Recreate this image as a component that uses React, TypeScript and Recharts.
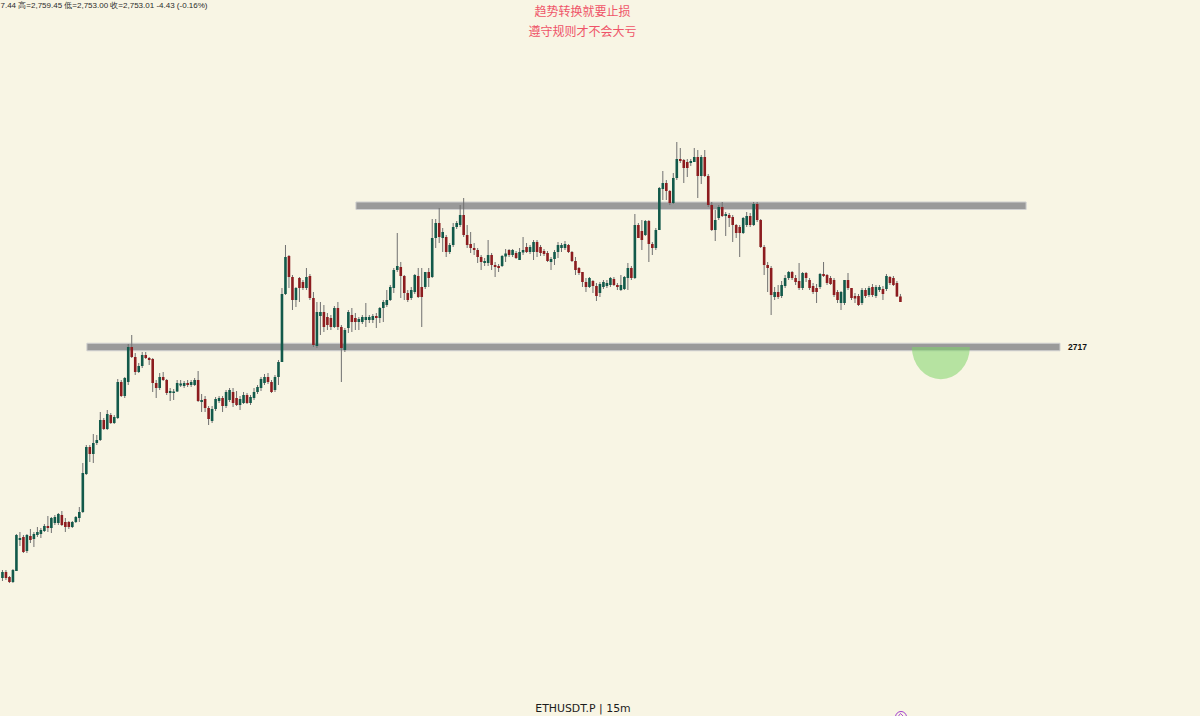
import React from 'react';
import { ComposedChart, Bar, XAxis, YAxis, ReferenceArea } from 'recharts';

// ETHUSDT perpetual, 15 minute candles (oldest first)
const OPEN = [
  2532.2, 2537.0, 2533.0, 2529.0, 2537.8, 2562.6, 2565.0, 2553.8, 2565.8, 2563.4,
  2566.6, 2567.4, 2569.8, 2573.8, 2572.2, 2576.2, 2576.2, 2582.6, 2577.0, 2577.0,
  2573.0, 2577.0, 2580.2, 2585.0, 2615.4, 2637.0, 2631.4, 2640.2, 2642.6, 2658.6,
  2651.4, 2662.6, 2656.2, 2660.2, 2689.0, 2677.8, 2689.0, 2717.0, 2709.0, 2697.0,
  2701.8, 2710.6, 2708.2, 2707.4, 2688.2, 2684.2, 2693.0, 2690.6, 2680.2, 2680.2,
  2681.4, 2686.2, 2685.8, 2688.2, 2686.6, 2686.6, 2690.6, 2673.0, 2675.4, 2668.2,
  2657.8, 2667.4, 2673.8, 2676.2, 2669.8, 2674.6, 2681.0, 2676.2, 2670.6, 2672.2,
  2678.6, 2672.2, 2676.2, 2681.0, 2684.2, 2688.2, 2693.0, 2689.0, 2682.6, 2693.0,
  2705.0, 2759.4, 2789.8, 2773.0, 2754.6, 2772.2, 2769.0, 2764.2, 2773.8, 2756.2,
  2717.8, 2741.8, 2745.0, 2741.0, 2740.2, 2733.0, 2748.2, 2733.0, 2714.6, 2732.2,
  2742.6, 2740.2, 2737.0, 2737.0, 2738.6, 2738.6, 2738.6, 2741.8, 2740.2, 2748.2,
  2750.6, 2754.6, 2764.2, 2778.6, 2781.0, 2773.8, 2760.2, 2756.2, 2761.0, 2773.8,
  2765.0, 2765.0, 2777.0, 2773.0, 2804.2, 2816.2, 2804.2, 2805.0, 2793.0, 2798.6,
  2813.0, 2814.6, 2822.6, 2806.6, 2799.4, 2796.2, 2794.6, 2789.0, 2784.2, 2784.2,
  2790.6, 2782.6, 2781.8, 2781.8, 2789.4, 2794.6, 2790.6, 2792.2, 2786.6, 2792.6,
  2797.0, 2793.0, 2793.0, 2801.0, 2797.0, 2793.8, 2792.2, 2785.0, 2787.4, 2793.0,
  2796.2, 2796.2, 2798.6, 2793.0, 2785.8, 2780.2, 2777.0, 2769.0, 2765.0, 2769.8,
  2765.8, 2760.2, 2765.0, 2765.8, 2766.6, 2771.4, 2766.6, 2762.6, 2763.4, 2772.2,
  2780.2, 2772.2, 2814.6, 2809.8, 2806.6, 2817.8, 2799.4, 2796.2, 2810.6, 2843.4,
  2848.2, 2841.8, 2832.2, 2852.2, 2867.4, 2866.6, 2865.0, 2864.2, 2865.0, 2869.0,
  2853.8, 2869.0, 2853.8, 2830.6, 2810.6, 2820.2, 2829.0, 2821.8, 2822.6, 2821.0,
  2814.6, 2813.0, 2808.2, 2814.6, 2821.8, 2814.6, 2831.4, 2818.6, 2797.0, 2782.6,
  2780.2, 2757.0, 2761.0, 2757.8, 2765.8, 2772.2, 2777.0, 2772.2, 2769.8, 2764.2,
  2776.2, 2770.6, 2765.8, 2764.2, 2765.0, 2775.4, 2774.6, 2772.2, 2770.6, 2761.0,
  2752.2, 2752.2, 2770.6, 2764.2, 2757.8, 2757.8, 2752.2, 2762.6, 2758.6, 2765.0,
  2757.8, 2762.6, 2763.4, 2763.4, 2773.0, 2772.2, 2768.2, 2757.44,
];

const HIGH = [
  2538.6, 2538.6, 2533.8, 2539.4, 2567.4, 2569.0, 2566.6, 2567.4, 2571.4, 2569.0,
  2573.0, 2572.2, 2575.4, 2581.8, 2581.0, 2582.6, 2584.2, 2585.8, 2580.2, 2577.8,
  2577.8, 2581.8, 2589.0, 2624.2, 2638.6, 2638.6, 2647.4, 2646.6, 2665.0, 2660.2,
  2666.6, 2664.2, 2662.6, 2691.4, 2690.6, 2693.0, 2719.4, 2726.6, 2712.2, 2704.2,
  2713.0, 2713.0, 2709.0, 2708.2, 2690.6, 2696.2, 2697.0, 2691.4, 2684.2, 2683.4,
  2690.6, 2690.6, 2689.8, 2690.6, 2690.6, 2692.2, 2697.8, 2679.4, 2677.8, 2669.8,
  2669.8, 2677.0, 2677.8, 2677.8, 2682.6, 2684.2, 2684.2, 2681.8, 2677.8, 2681.0,
  2680.2, 2678.6, 2684.2, 2686.6, 2693.0, 2695.4, 2696.2, 2690.6, 2694.6, 2706.6,
  2764.2, 2798.6, 2790.6, 2774.6, 2765.0, 2773.0, 2770.6, 2780.2, 2775.4, 2761.0,
  2753.0, 2753.0, 2750.6, 2744.2, 2742.6, 2749.8, 2753.0, 2734.6, 2732.2, 2746.6,
  2748.2, 2744.2, 2741.0, 2742.6, 2752.2, 2742.6, 2743.4, 2744.2, 2749.0, 2754.6,
  2762.6, 2766.6, 2780.2, 2808.2, 2785.0, 2774.6, 2762.6, 2765.0, 2775.4, 2780.2,
  2780.2, 2773.8, 2780.2, 2819.4, 2819.4, 2828.2, 2812.2, 2806.6, 2800.2, 2816.2,
  2817.8, 2830.6, 2836.2, 2814.6, 2809.0, 2800.2, 2796.2, 2790.6, 2788.2, 2802.6,
  2792.2, 2785.0, 2783.4, 2790.6, 2795.4, 2795.4, 2795.4, 2793.8, 2796.2, 2805.0,
  2800.2, 2798.6, 2802.6, 2802.6, 2798.6, 2795.4, 2793.8, 2789.0, 2794.6, 2801.0,
  2800.2, 2801.8, 2799.4, 2793.8, 2789.0, 2781.0, 2777.0, 2772.2, 2773.0, 2770.6,
  2768.2, 2769.0, 2770.6, 2770.6, 2773.0, 2773.0, 2768.2, 2774.6, 2773.8, 2784.2,
  2781.8, 2823.4, 2816.2, 2818.6, 2818.6, 2818.6, 2801.0, 2812.2, 2845.0, 2857.8,
  2850.6, 2842.6, 2856.2, 2881.0, 2876.2, 2867.4, 2867.4, 2867.4, 2876.2, 2874.6,
  2870.6, 2874.6, 2855.4, 2833.0, 2826.6, 2830.6, 2833.0, 2825.0, 2824.2, 2822.6,
  2815.4, 2814.6, 2821.0, 2825.0, 2824.2, 2833.0, 2833.0, 2819.4, 2798.6, 2785.0,
  2781.8, 2765.0, 2766.6, 2769.8, 2774.6, 2777.8, 2777.8, 2774.6, 2784.2, 2777.0,
  2777.0, 2772.2, 2768.2, 2767.4, 2776.2, 2785.0, 2775.4, 2773.8, 2772.2, 2762.6,
  2761.8, 2770.6, 2776.2, 2764.2, 2760.2, 2759.4, 2764.2, 2764.2, 2765.8, 2767.4,
  2766.6, 2766.6, 2765.8, 2775.4, 2773.8, 2773.8, 2769.8, 2759.45,
];

const LOW = [
  2529.8, 2530.6, 2528.2, 2528.2, 2537.8, 2557.8, 2552.2, 2552.2, 2560.2, 2557.0,
  2565.0, 2564.2, 2569.0, 2569.0, 2568.2, 2574.6, 2574.6, 2573.8, 2569.0, 2571.4,
  2572.2, 2576.2, 2577.0, 2584.2, 2614.6, 2625.0, 2624.2, 2638.6, 2641.8, 2650.6,
  2650.6, 2655.4, 2655.4, 2659.4, 2677.0, 2676.2, 2686.6, 2708.2, 2694.6, 2696.2,
  2700.2, 2707.4, 2702.6, 2681.0, 2676.2, 2682.6, 2689.8, 2678.6, 2673.8, 2674.6,
  2681.0, 2685.0, 2684.2, 2685.0, 2685.0, 2685.8, 2673.0, 2665.0, 2665.0, 2654.6,
  2656.2, 2665.8, 2672.2, 2665.0, 2668.2, 2673.0, 2669.0, 2669.8, 2666.6, 2671.4,
  2671.4, 2670.6, 2674.6, 2679.4, 2681.8, 2686.6, 2687.4, 2680.2, 2681.0, 2686.6,
  2705.0, 2758.6, 2764.2, 2746.6, 2749.0, 2753.0, 2762.6, 2762.6, 2754.6, 2717.0,
  2716.2, 2726.6, 2729.0, 2730.6, 2730.6, 2732.2, 2730.6, 2689.0, 2713.0, 2728.2,
  2729.0, 2730.6, 2730.6, 2735.4, 2733.0, 2736.2, 2736.2, 2732.2, 2736.2, 2737.0,
  2749.0, 2753.8, 2760.2, 2777.0, 2756.2, 2754.6, 2753.0, 2754.6, 2759.4, 2756.2,
  2733.0, 2763.4, 2765.0, 2772.2, 2796.2, 2800.2, 2793.0, 2789.0, 2791.4, 2797.0,
  2811.4, 2813.0, 2805.0, 2796.2, 2792.2, 2790.6, 2784.2, 2778.6, 2781.8, 2781.8,
  2778.6, 2773.0, 2777.0, 2781.0, 2785.0, 2789.0, 2789.0, 2787.4, 2786.6, 2790.6,
  2792.2, 2791.4, 2786.6, 2789.0, 2789.8, 2789.8, 2785.0, 2778.6, 2782.6, 2788.2,
  2793.0, 2794.6, 2792.2, 2785.0, 2774.6, 2774.6, 2765.0, 2761.0, 2764.2, 2760.2,
  2753.8, 2757.0, 2763.4, 2764.2, 2765.0, 2765.8, 2762.6, 2761.8, 2762.6, 2762.6,
  2770.6, 2771.4, 2804.2, 2794.6, 2805.8, 2785.0, 2790.6, 2794.6, 2810.6, 2834.6,
  2834.6, 2830.6, 2831.4, 2850.6, 2864.2, 2848.2, 2853.0, 2861.8, 2865.0, 2836.2,
  2847.4, 2853.0, 2829.0, 2809.8, 2801.8, 2818.6, 2821.0, 2805.8, 2813.0, 2801.0,
  2804.2, 2789.0, 2807.4, 2813.0, 2813.0, 2813.8, 2817.0, 2796.2, 2774.6, 2761.0,
  2742.6, 2754.6, 2755.4, 2756.2, 2764.2, 2770.6, 2770.6, 2766.6, 2762.6, 2762.6,
  2769.0, 2762.6, 2759.4, 2752.2, 2763.4, 2773.0, 2766.6, 2766.6, 2757.0, 2752.2,
  2746.6, 2750.6, 2762.6, 2754.6, 2752.2, 2749.8, 2750.6, 2756.2, 2757.0, 2757.0,
  2756.2, 2761.0, 2754.6, 2761.8, 2766.6, 2765.8, 2757.0, 2753.0,
];

const CLOSE = [
  2537.0, 2532.2, 2529.0, 2538.6, 2566.6, 2564.2, 2553.0, 2566.6, 2562.6, 2567.4,
  2569.0, 2570.6, 2573.8, 2572.2, 2580.2, 2581.0, 2583.4, 2574.6, 2573.0, 2573.0,
  2577.0, 2581.0, 2585.0, 2616.2, 2637.0, 2631.4, 2640.2, 2642.6, 2658.6, 2651.4,
  2663.4, 2656.2, 2661.0, 2689.0, 2677.8, 2692.2, 2717.0, 2709.0, 2697.0, 2701.8,
  2710.6, 2708.2, 2706.6, 2688.2, 2684.2, 2693.0, 2690.6, 2680.2, 2681.8, 2681.4,
  2688.2, 2687.8, 2688.2, 2686.6, 2689.0, 2690.6, 2673.8, 2674.6, 2668.2, 2659.4,
  2667.4, 2675.4, 2676.2, 2669.8, 2681.0, 2682.6, 2672.2, 2670.6, 2675.4, 2678.6,
  2672.2, 2677.0, 2681.0, 2685.0, 2691.4, 2693.0, 2689.0, 2681.0, 2693.0, 2705.0,
  2759.4, 2789.0, 2773.0, 2754.6, 2764.2, 2764.2, 2764.2, 2773.0, 2756.2, 2718.6,
  2745.0, 2745.0, 2733.0, 2734.6, 2733.0, 2748.2, 2733.0, 2716.2, 2730.6, 2745.0,
  2737.0, 2737.0, 2739.4, 2741.0, 2741.0, 2741.0, 2741.8, 2740.2, 2748.2, 2753.0,
  2754.6, 2765.0, 2778.6, 2781.8, 2773.8, 2760.2, 2754.6, 2762.6, 2774.6, 2757.0,
  2757.0, 2777.0, 2772.2, 2804.2, 2816.2, 2805.0, 2809.0, 2793.0, 2798.6, 2813.0,
  2816.2, 2822.6, 2806.6, 2798.6, 2796.2, 2794.6, 2789.0, 2785.0, 2785.8, 2790.6,
  2782.6, 2781.0, 2780.2, 2789.8, 2791.8, 2790.6, 2794.6, 2788.2, 2793.0, 2794.6,
  2793.0, 2797.0, 2801.0, 2793.0, 2792.2, 2791.4, 2785.8, 2787.4, 2793.0, 2798.6,
  2798.6, 2799.4, 2793.0, 2785.8, 2778.6, 2776.2, 2769.0, 2765.0, 2772.2, 2765.8,
  2757.8, 2767.4, 2769.0, 2768.2, 2772.2, 2766.6, 2765.0, 2766.6, 2773.0, 2780.2,
  2772.2, 2814.6, 2804.2, 2802.6, 2817.8, 2799.4, 2796.2, 2810.6, 2844.2, 2848.2,
  2841.8, 2832.2, 2852.2, 2867.4, 2865.8, 2860.2, 2860.2, 2865.8, 2869.0, 2853.8,
  2869.0, 2853.8, 2830.6, 2810.6, 2818.6, 2829.0, 2821.8, 2823.4, 2820.2, 2814.6,
  2808.2, 2808.2, 2820.2, 2821.8, 2814.6, 2831.4, 2818.6, 2797.0, 2782.6, 2780.2,
  2758.6, 2761.0, 2757.0, 2766.6, 2772.2, 2777.0, 2772.2, 2769.0, 2764.2, 2776.2,
  2772.2, 2764.2, 2761.0, 2761.0, 2775.4, 2773.8, 2768.2, 2767.4, 2758.6, 2754.6,
  2761.0, 2770.6, 2764.2, 2756.2, 2755.8, 2750.6, 2762.6, 2757.8, 2764.2, 2758.6,
  2765.0, 2765.0, 2759.4, 2773.8, 2768.2, 2766.6, 2757.4, 2753.01,
];

// Drawn levels (prices) and the candle span each drawing covers
const RESISTANCE = 2830;
const SUPPORT = 2717;
const RESISTANCE_FROM = 101.1;
const RESISTANCE_TO = 292.9;
const SUPPORT_FROM = 24.1;
const SUPPORT_TO = 302.6;
// Projected dip below support
const DIP_FROM = 260.2;
const DIP_TO = 276.8;
const DIP_BOTTOM = 2691.2;

const TITLE_LINES = ['趋势转换就要止损', '遵守规则才不会大亏'];
const SYMBOL = 'ETHUSDT.P';
const INTERVAL = '15m';

const W = 1200;
const H = 716;
const BG = '#f8f5e4';
const UP = '#12594a';
const DOWN = '#8c1c1f';
const WICK = '#707070';
const BAND_HALF = 3.0;
const X_DOMAIN: [number, number] = [-0.773, 342.67];
const Y_DOMAIN: [number, number] = [2421.8, 2994.6];

const candles = OPEN.map((open, i) => ({
  i,
  open,
  high: HIGH[i],
  low: LOW[i],
  close: CLOSE[i],
  range: [LOW[i], HIGH[i]],
}));

const fmt = (v: number) =>
  v.toLocaleString('en-US', { minimumFractionDigits: 2, maximumFractionDigits: 2 });

// OHLC legend of the latest candle; its leading part sits left of the pane edge,
// so the row is shown from the last digits of the open price onward
const last = candles[candles.length - 1];
const change = last.close - last.open;
const changePct = (change / last.open) * 100;
const legendText =
  `开=${fmt(last.open)} 高=${fmt(last.high)} 低=${fmt(last.low)} 收=${fmt(last.close)} ` +
  `${change.toFixed(2)} (${changePct.toFixed(2)}%)`;
const legendVisible = legendText.slice(6);

const Candle = (props: any) => {
  const { x, y, width, height, payload } = props;
  if (!payload) return null;
  const { open, close, high, low } = payload;
  const top = Math.min(y, y + height);
  const h = Math.abs(height);
  const k = high > low ? h / (high - low) : 0;
  const cx = x + width / 2;
  const yOf = (v: number) => top + (high - v) * k;
  const up = close >= open;
  const bTop = yOf(Math.max(open, close));
  const bH = Math.max(1, Math.abs(yOf(open) - yOf(close)));
  return (
    <g>
      <line x1={cx} x2={cx} y1={top} y2={top + h} stroke={WICK} strokeWidth={1} />
      <rect x={cx - 1.3} y={bTop} width={2.6} height={bH} fill={up ? UP : DOWN} />
    </g>
  );
};

const DipShape = (props: any) => {
  const { x, y, width, height } = props;
  const rx = width / 2;
  const d = `M${x},${y} A${rx},${height} 0 0 0 ${x + width},${y} Z`;
  return <path d={d} fill="#7fd46a" fillOpacity={0.55} stroke="none" />;
};

export default function App() {
  return (
    <div
      style={{
        position: 'absolute',
        left: 0,
        top: 0,
        width: W,
        height: H,
        background: BG,
        overflow: 'hidden',
      }}
    >
      <ComposedChart
        width={W}
        height={H}
        data={candles}
        margin={{ top: 0, right: 0, bottom: 0, left: 0 }}
      >
        <XAxis dataKey="i" type="number" domain={X_DOMAIN} allowDataOverflow hide />
        <YAxis type="number" domain={Y_DOMAIN} allowDataOverflow hide />
        <ReferenceArea
          x1={RESISTANCE_FROM}
          x2={RESISTANCE_TO}
          y1={RESISTANCE - BAND_HALF}
          y2={RESISTANCE + BAND_HALF}
          fill="#9a9a9a"
          fillOpacity={1}
          stroke="#cfcfcf"
          strokeWidth={1}
        />
        <ReferenceArea
          x1={SUPPORT_FROM}
          x2={SUPPORT_TO}
          y1={SUPPORT - BAND_HALF}
          y2={SUPPORT + BAND_HALF}
          fill="#9a9a9a"
          fillOpacity={1}
          stroke="#cfcfcf"
          strokeWidth={1}
          label={{
            value: String(SUPPORT),
            position: 'right',
            offset: 8,
            fill: '#111',
            fontSize: 8.5,
            fontWeight: 700,
            fontFamily: 'Liberation Sans, Arial, sans-serif',
          }}
        />
        <Bar
          dataKey="range"
          barSize={3}
          isAnimationActive={false}
          shape={(p: any) => <Candle {...p} />}
        />
        <ReferenceArea
          x1={DIP_FROM}
          x2={DIP_TO}
          y1={DIP_BOTTOM}
          y2={SUPPORT}
          shape={(p: any) => <DipShape {...p} />}
        />
      </ComposedChart>

      <svg
        width={W}
        height={H}
        style={{ position: 'absolute', left: 0, top: 0, pointerEvents: 'none' }}
      >
        <text
          x={0.5}
          y={7.5}
          fontFamily="Liberation Sans, Arial, sans-serif"
          fontSize={8}
          fill="#2b2b2b"
        >
          {legendVisible}
        </text>
        <g fontFamily="'Noto Sans CJK SC', sans-serif" fontSize={12} fill="#ef5468" textAnchor="middle">
          <text x={582.5} y={15.5}>{TITLE_LINES[0]}</text>
          <text x={582.5} y={35.5}>{TITLE_LINES[1]}</text>
        </g>
        <text
          x={583}
          y={712}
          textAnchor="middle"
          fontFamily="DejaVu Sans, Verdana, sans-serif"
          fontSize={10.9}
          fill="#1c1c1c"
        >
          {`${SYMBOL} | ${INTERVAL}`}
        </text>
        <circle cx={901} cy={717} r={5.5} fill={BG} stroke="#a23fd0" strokeWidth={1} />
        <path d="M898.5,716 L900.5,713.5 L903,716" fill="none" stroke="#a23fd0" strokeWidth={0.9} />
      </svg>
    </div>
  );
}
